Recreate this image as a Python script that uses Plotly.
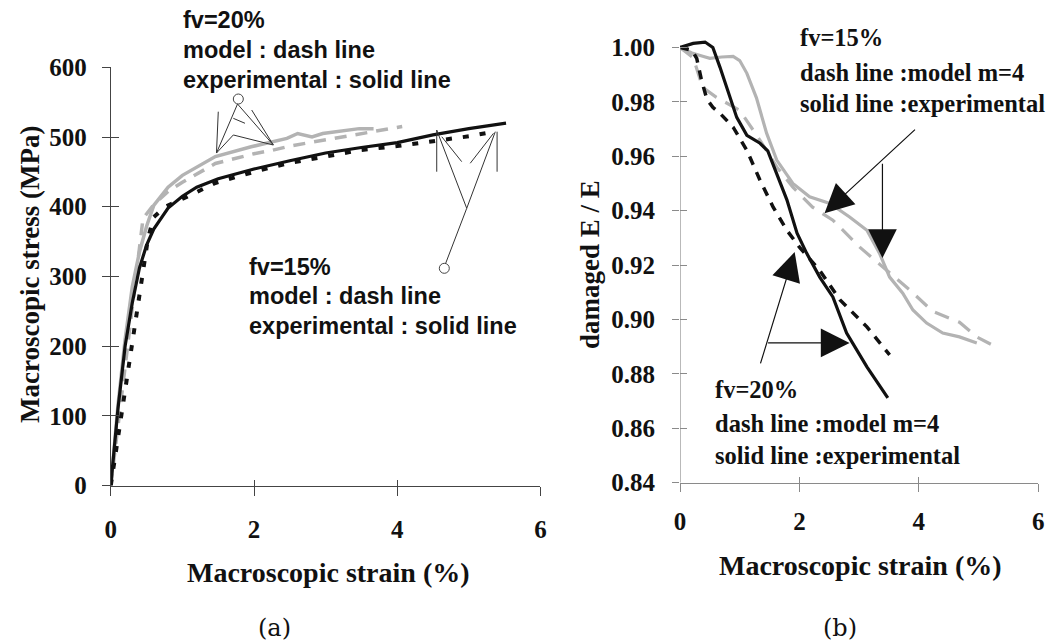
import plotly.graph_objects as go

W, H = 1048, 643

# ---------------- data : panel (a) stress-strain ----------------
a_exp20_x = [0, 0.1, 0.2, 0.3, 0.4, 0.5, 0.6, 0.8, 1.0, 1.46, 1.96, 2.46, 2.61, 2.81, 2.96, 3.47, 3.67]
a_exp20_y = [0, 115, 210, 285, 335, 372, 402, 428, 445, 472, 486, 498, 505, 500, 505, 512, 512]

a_mod20_x = [0, 0.45, 0.6, 0.8, 1.0, 1.46, 2.0, 2.26, 2.5, 3.0, 3.47, 4.07]
a_mod20_y = [0, 383, 403, 422, 435, 462, 476, 481, 487, 496, 505, 515]

a_exp15_x = [0, 0.1, 0.2, 0.3, 0.4, 0.5, 0.6, 0.8, 1.0, 1.2, 1.5, 2.0, 2.5, 3.0, 3.5, 4.0, 4.5, 5.0, 5.52]
a_exp15_y = [0, 110, 200, 262, 312, 345, 368, 398, 415, 428, 440, 454, 466, 477, 485, 492, 503, 512, 520]

a_mod15_x = [0, 0.45, 0.52, 0.6, 0.76, 1.06, 1.46, 2.0, 2.46, 3.0, 3.47, 4.0, 4.47, 5.0, 5.37]
a_mod15_y = [0, 310, 355, 385, 400, 414, 434, 450, 462, 472, 481, 487, 493, 501, 508]

a_xticks = [0, 2, 4, 6]
a_yticks = [0, 100, 200, 300, 400, 500, 600]

# ---------------- data : panel (b) damaged E / E ----------------
b_exp20_x = [0, 0.22, 0.42, 0.55, 0.67, 0.78, 0.95, 1.12, 1.34, 1.47, 1.62, 1.79, 1.96, 2.12, 2.34, 2.56, 2.79, 3.13, 3.48]
b_exp20_y = [1.0, 1.0015, 1.002, 1.0, 0.9927, 0.9853, 0.9743, 0.9677, 0.9648, 0.962, 0.9538, 0.944, 0.9317, 0.9244,
             0.9156, 0.9083, 0.895, 0.8826, 0.8712]

b_mod20_x = [0, 0.2, 0.28, 0.36, 0.45, 0.55, 0.67, 0.89, 1.12, 1.34, 1.56, 1.79, 2.0, 2.34, 2.68, 3.13, 3.51]
b_mod20_y = [1.0, 0.999, 0.996, 0.988, 0.981, 0.978, 0.9758, 0.9707, 0.9622, 0.9512, 0.9413, 0.9328, 0.9266, 0.918,
             0.9072, 0.8973, 0.887]

b_exp15_x = [0, 0.2, 0.38, 0.5, 0.7, 0.89, 1.0, 1.12, 1.28, 1.45, 1.62, 1.89, 2.17, 2.51, 2.84, 3.13, 3.34, 3.51,
             3.73, 3.9, 4.13, 4.4, 4.68, 4.97]
b_exp15_y = [1.0, 0.998, 0.9968, 0.996, 0.9965, 0.9967, 0.9952, 0.9905, 0.9815, 0.9685, 0.9586, 0.95, 0.9451, 0.9427,
             0.9377, 0.9328, 0.9244, 0.9156, 0.9097, 0.9035, 0.8987, 0.895, 0.8936, 0.8914]

b_mod15_x = [0, 0.22, 0.38, 0.61, 1.0, 1.34, 1.62, 1.89, 2.22, 2.56, 3.01, 3.39, 3.85, 4.23, 4.68, 4.97, 5.23]
b_mod15_y = [1.0, 0.9963, 0.9853, 0.9817, 0.9769, 0.9659, 0.9561, 0.9486, 0.9413, 0.9365, 0.9266, 0.9193, 0.9108,
             0.903, 0.899, 0.8936, 0.8906]

b_xticks = [0, 2, 4, 6]
b_yticks = [0.84, 0.86, 0.88, 0.90, 0.92, 0.94, 0.96, 0.98, 1.00]

# ---------------- styling ----------------
BLACK = "#111111"
GRAY = "#b3b3b3"
SERIF = "Liberation Serif"
SANS = "Liberation Sans"


def px(x):
    return x / W


def py(y):
    return 1 - y / H


fig = go.Figure()

# panel (a)
fig.add_trace(go.Scatter(x=a_exp20_x, y=a_exp20_y, mode="lines", line=dict(color=GRAY, width=3.5),
                         xaxis="x", yaxis="y", showlegend=False))
fig.add_trace(go.Scatter(x=a_mod20_x, y=a_mod20_y, mode="lines", line=dict(color=GRAY, width=3.5, dash="12px,9px"),
                         xaxis="x", yaxis="y", showlegend=False))
fig.add_trace(go.Scatter(x=a_exp15_x, y=a_exp15_y, mode="lines", line=dict(color=BLACK, width=3.2),
                         xaxis="x", yaxis="y", showlegend=False))
fig.add_trace(go.Scatter(x=a_mod15_x, y=a_mod15_y, mode="lines", line=dict(color=BLACK, width=4, dash="6px,11px"),
                         xaxis="x", yaxis="y", showlegend=False))

# panel (b)
fig.add_trace(go.Scatter(x=b_exp15_x, y=b_exp15_y, mode="lines", line=dict(color=GRAY, width=3.2),
                         xaxis="x2", yaxis="y2", showlegend=False))
fig.add_trace(go.Scatter(x=b_mod15_x, y=b_mod15_y, mode="lines", line=dict(color=GRAY, width=3.2, dash="15px,10px"),
                         xaxis="x2", yaxis="y2", showlegend=False))
fig.add_trace(go.Scatter(x=b_exp20_x, y=b_exp20_y, mode="lines", line=dict(color=BLACK, width=3.2),
                         xaxis="x2", yaxis="y2", showlegend=False))
fig.add_trace(go.Scatter(x=b_mod20_x, y=b_mod20_y, mode="lines", line=dict(color=BLACK, width=3.5, dash="9px,8px"),
                         xaxis="x2", yaxis="y2", showlegend=False))

# empty traces to activate the overlay (inner tick) axes
fig.add_trace(go.Scatter(x=[], y=[], xaxis="x3", yaxis="y3", showlegend=False))
fig.add_trace(go.Scatter(x=[], y=[], xaxis="x4", yaxis="y4", showlegend=False))

A_DOM_X = [px(110.8), px(540.4)]
A_DOM_Y = [py(485.5), py(67.3)]
B_DOM_X = [px(680), px(1038.3)]
# y range extended slightly above 1.00 so the peak is not clipped
B_TOP = 1.003
B_DOM_Y = [py(482.7), py(47.5 - (B_TOP - 1.0) / 0.16 * 435.2)]

tickfont = dict(family=SERIF, size=25, color="#111", weight="bold")
tickfont_b = dict(family=SERIF, size=25, color="#111", weight="bold")
AX_A = "#444444"
AX_B = "#8a8a8a"

fig.update_layout(
    width=W, height=H, margin=dict(l=0, r=0, t=0, b=0, pad=0, autoexpand=False),
    paper_bgcolor="white", plot_bgcolor="white",
    xaxis=dict(domain=A_DOM_X, range=[0, 6], anchor="y", tickvals=a_xticks, ticks="outside", ticklen=9,
               tickcolor=AX_A, showline=True, linecolor=AX_A, linewidth=1.2, showgrid=False, zeroline=False,
               tickfont=tickfont, ticklabelstandoff=12, automargin=False),
    yaxis=dict(domain=A_DOM_Y, range=[0, 600], anchor="x", tickvals=a_yticks, ticks="outside", ticklen=8,
               tickcolor=AX_A, showline=True, linecolor=AX_A, linewidth=1.2, showgrid=False, zeroline=False,
               tickfont=tickfont, ticklabelstandoff=10, automargin=False),
    xaxis3=dict(overlaying="x", anchor="y", range=[0, 6], tickvals=a_xticks, ticks="inside", ticklen=6,
                tickcolor=AX_A, showticklabels=False, showline=False, showgrid=False, zeroline=False),
    yaxis3=dict(overlaying="y", anchor="x", range=[0, 600], tickvals=a_yticks, ticks="inside", ticklen=8,
                tickcolor=AX_A, showticklabels=False, showline=False, showgrid=False, zeroline=False),
    xaxis2=dict(domain=B_DOM_X, range=[0, 6], anchor="y2", tickvals=b_xticks, ticks="outside", ticklen=8,
                tickcolor=AX_B, showline=True, linecolor=AX_B, linewidth=1.2, showgrid=False, zeroline=False,
                tickfont=tickfont_b, ticklabelstandoff=8, automargin=False),
    yaxis2=dict(domain=B_DOM_Y, range=[0.84, B_TOP], anchor="x2", tickvals=b_yticks, tickformat=".2f",
                ticks="outside", ticklen=7, tickcolor=AX_B, showline=False, showgrid=False, zeroline=False,
                tickfont=tickfont_b, ticklabelstandoff=12, automargin=False),
    xaxis4=dict(overlaying="x2", anchor="y2", range=[0, 6], tickvals=b_xticks, ticks="inside", ticklen=6,
                tickcolor=AX_B, showticklabels=False, showline=False, showgrid=False, zeroline=False),
    yaxis4=dict(overlaying="y2", anchor="x2", range=[0.84, B_TOP], tickvals=b_yticks, ticks="inside", ticklen=7,
                tickcolor=AX_B, showticklabels=False, showline=False, showgrid=False, zeroline=False),
)

shapes = []
# y axis line of panel (b) from 0.84 to 1.00
shapes.append(dict(type="line", xref="x2", yref="y2", x0=0, x1=0, y0=b_yticks[0], y1=b_yticks[-1],
                   line=dict(color=AX_B, width=1.2)))

# sketched pointer lines in panel (a) (data coordinates)
SK = dict(color="#333333", width=1)
sketch_lines = [
    ((1.77, 547.3), (1.476, 477.0)),
    ((1.77, 547.3), (2.27, 488.5)),
    ((1.501, 536.3), (1.476, 477.0)),
    ((1.968, 538.7), (2.27, 488.5)),
    ((1.711, 526.8), (1.874, 519.7)),
    ((1.711, 502.9), (2.27, 488.5)),
    ((1.476, 477.0), (1.711, 502.9)),
    ((4.677, 318.8), (4.971, 397.7)),
    ((4.971, 397.7), (4.552, 510.0)),
    ((4.971, 397.7), (5.37, 507.6)),
    ((4.552, 510.0), (4.552, 450.2)),
    ((5.395, 507.6), (5.395, 450.2)),
    ((4.622, 500.4), (4.901, 464.6)),
    ((5.345, 505.3), (5.02, 462.3)),
]
for (xa, ya), (xb, yb) in sketch_lines:
    shapes.append(dict(type="line", xref="x", yref="y", x0=xa, y0=ya, x1=xb, y1=yb, line=SK))
for cx, cy in [(1.781, 554.5), (4.658, 311.6)]:
    shapes.append(dict(type="circle", xref="x", yref="y", xsizemode="pixel", ysizemode="pixel",
                       xanchor=cx, yanchor=cy, x0=-5, x1=5, y0=-5, y1=5,
                       line=dict(color="#444", width=1), fillcolor="white"))
fig.update_layout(shapes=shapes)

ann = []


def text(x, y, s, fam, size, anchor="left", bold=True, color="#111"):
    ann.append(dict(x=px(x), y=py(y), xref="paper", yref="paper", text=s, showarrow=False,
                    xanchor=anchor, yanchor="middle",
                    font=dict(family=fam, size=size, color=color, weight="bold" if bold else "normal")))


# panel (a) notes
text(181, 20, "fv=20%", SANS, 23.5)
text(181, 50, "model : dash line", SANS, 23.5)
text(181, 80, "experimental : solid line", SANS, 23.5)
text(247, 267, "fv=15%", SANS, 23.5)
text(247, 296, "model : dash line", SANS, 23.5)
text(247, 326, "experimental : solid line", SANS, 23.5)

# panel (b) notes
text(798, 38, "fv=15%", SERIF, 24.5)
text(798, 72, "dash line :model m=4", SERIF, 24.5)
text(798, 103, "solid line :experimental", SERIF, 24.5)
text(713, 390, "fv=20%", SERIF, 24.5)
text(713, 423, "dash line :model m=4", SERIF, 24.5)
text(713, 455, "solid line :experimental", SERIF, 24.5)

# axis titles
text(328, 572, "Macroscopic strain (%)", SERIF, 28, anchor="center")
text(860, 565, "Macroscopic strain (%)", SERIF, 28, anchor="center")
ann.append(dict(x=px(30), y=py(275), xref="paper", yref="paper", text="Macroscopic stress (MPa)",
                showarrow=False, textangle=-90, xanchor="center", yanchor="middle",
                font=dict(family=SERIF, size=27, color="#111", weight="bold")))
ann.append(dict(x=px(590), y=py(265), xref="paper", yref="paper", text="damaged E / E",
                showarrow=False, textangle=-90, xanchor="center", yanchor="middle",
                font=dict(family=SERIF, size=27, color="#111", weight="bold")))

# panel labels
text(274, 628, "(a)", "DejaVu Serif", 24, anchor="center", bold=False)
text(840, 628, "(b)", "DejaVu Serif", 24, anchor="center", bold=False)

# arrows in panel (b)
arrows = [
    ((3.96, 0.9703), (2.42, 0.9391)),
    ((3.39, 0.9578), (3.39, 0.9226)),
    ((1.34, 0.8833), (1.92, 0.9248)),
    ((1.45, 0.8914), (2.84, 0.8914)),
]
for (tx, ty), (hx, hy) in arrows:
    ann.append(dict(x=hx, y=hy, ax=tx, ay=ty, xref="x2", yref="y2", axref="x2", ayref="y2", text="",
                    showarrow=True, arrowhead=2, arrowsize=4.8, arrowwidth=1.2, arrowcolor="#111", standoff=0))

fig.update_layout(annotations=ann)

fig.write_html("out.html", config={"displayModeBar": False},
               post_script="document.body.style.margin='0';document.body.style.overflow='hidden';")
